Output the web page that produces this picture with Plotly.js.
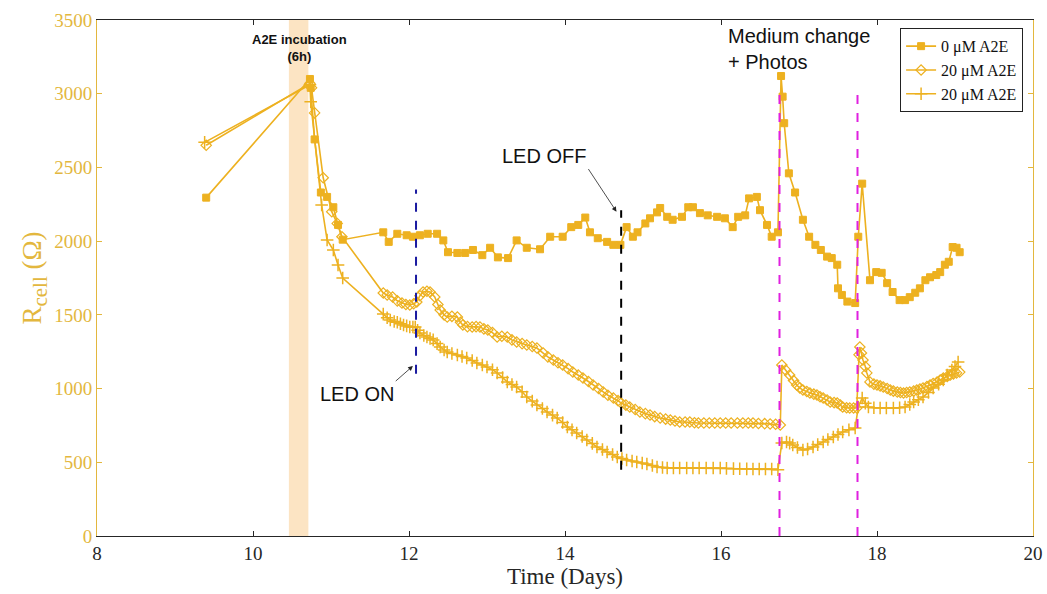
<!DOCTYPE html>
<html>
<head>
<meta charset="utf-8">
<script src="https://cdn.plot.ly/plotly-3.0.1.min.js"></script>
<style>html,body{margin:0;padding:0;background:#fff;}#chart{width:1047px;height:594px;}</style>
</head>
<body>
<div id="chart"></div>
<script>
// ---- Data ----
const seriesNames = ["0 \u03bcM A2E", "20 \u03bcM A2E", "20 \u03bcM A2E"];

const dayA = [9.40,10.73,10.74,10.79,10.87,10.95,11.03,11.09,11.15,11.67,
  11.74,11.85,11.97,12.05,12.14,12.24,12.36,12.44,12.50,12.62,
  12.72,12.82,12.94,13.04,13.14,13.27,13.38,13.51,13.68,13.81,
  13.97,14.08,14.17,14.26,14.32,14.42,14.54,14.62,14.71,14.79,
  14.87,14.93,15.03,15.09,15.18,15.22,15.31,15.38,15.50,15.58,
  15.64,15.73,15.83,15.95,16.05,16.15,16.22,16.31,16.36,16.46,
  16.50,16.59,16.65,16.73,16.77,16.79,16.81,16.87,16.95,17.05,
  17.13,17.21,17.28,17.36,17.42,17.49,17.50,17.55,17.62,17.72,
  17.76,17.81,17.91,17.99,18.06,18.13,18.20,18.29,18.36,18.42,
  18.49,18.55,18.62,18.68,18.76,18.81,18.87,18.92,18.97,19.02,19.06];
const rA = [2295,3100,3040,2690,2330,2300,2230,2110,2010,2060,
  1995,2050,2040,2030,2040,2050,2050,2005,1925,1920,
  1920,1940,1905,1955,1890,1885,2005,1955,1945,2030,
  2030,2095,2110,2160,2060,2020,1995,1975,1975,2095,
  2030,2060,2120,2155,2195,2225,2165,2145,2165,2230,
  2230,2190,2175,2165,2155,2095,2165,2175,2290,2300,
  2210,2110,2030,2060,3120,2980,2800,2460,2330,2145,
  2030,1975,1940,1895,1885,1840,1680,1635,1590,1580,
  2030,2390,1735,1790,1785,1715,1655,1600,1600,1620,
  1650,1680,1735,1755,1770,1790,1840,1860,1960,1955,1925];

const dayB = [9.40,10.73,10.75,10.79,10.90,11.01,11.08,11.14,11.67,11.72,
  11.79,11.85,11.91,11.96,12.01,12.06,12.10,12.14,12.18,12.23,
  12.27,12.33,12.37,12.40,12.45,12.49,12.55,12.62,12.66,12.69,
  12.75,12.81,12.86,12.91,12.96,13.01,13.07,13.13,13.19,13.26,
  13.32,13.38,13.45,13.51,13.58,13.64,13.72,13.78,13.85,13.91,
  13.97,14.04,14.10,14.17,14.23,14.30,14.36,14.43,14.49,14.55,
  14.62,14.68,14.72,14.78,14.83,14.90,14.96,15.03,15.09,15.15,
  15.22,15.29,15.35,15.41,15.47,15.54,15.60,15.66,15.71,15.78,
  15.85,15.92,15.99,16.06,16.13,16.21,16.28,16.35,16.41,16.48,
  16.56,16.63,16.70,16.76,16.78,16.83,16.88,16.93,16.97,17.01,
  17.05,17.10,17.14,17.19,17.23,17.27,17.31,17.36,17.40,17.45,
  17.49,17.53,17.56,17.61,17.65,17.70,17.74,17.77,17.78,17.80,
  17.82,17.85,17.87,17.91,17.96,18.00,18.04,18.08,18.13,18.17,
  18.21,18.26,18.30,18.34,18.38,18.42,18.47,18.51,18.55,18.59,
  18.64,18.68,18.72,18.77,18.81,18.85,18.90,18.94,18.98,19.02,19.06];
const rB = [2650,3070,3040,2870,2430,2200,2120,2030,1648,1635,
  1621,1595,1580,1570,1567,1575,1587,1630,1655,1660,
  1655,1621,1570,1533,1500,1485,1490,1485,1450,1431,
  1420,1418,1420,1418,1405,1397,1380,1350,1355,1350,
  1330,1316,1305,1296,1285,1275,1241,1215,1194,1175,
  1160,1135,1112,1092,1072,1048,1024,1000,977,955,
  936,918,902,888,875,858,841,830,821,810,
  800,793,787,780,773,773,773,768,766,766,
  766,766,766,766,766,766,766,766,766,763,
  762,760,758,753,1160,1125,1092,1055,1024,1005,
  990,980,970,962,956,945,936,922,909,905,
  902,888,875,870,868,868,868,1230,1282,1241,
  1194,1150,1106,1045,1030,1024,1018,1011,1000,990,
  983,977,973,970,973,977,983,990,997,1004,
  1014,1024,1034,1045,1058,1072,1082,1092,1100,1106,1112];

const dayC = [9.38,10.73,10.74,10.88,10.95,11.03,11.09,11.15,11.67,11.72,
  11.76,11.81,11.85,11.89,11.93,11.97,12.01,12.05,12.08,12.11,
  12.14,12.19,12.23,12.27,12.31,12.36,12.40,12.45,12.49,12.55,
  12.62,12.68,12.74,12.81,12.87,12.94,13.00,13.07,13.13,13.20,
  13.26,13.32,13.38,13.45,13.51,13.58,13.64,13.71,13.77,13.84,
  13.90,13.97,14.03,14.09,14.15,14.22,14.28,14.35,14.41,14.48,
  14.54,14.61,14.67,14.73,14.79,14.86,14.92,14.99,15.05,15.12,
  15.18,15.25,15.31,15.39,15.47,15.56,15.64,15.72,15.81,15.90,
  15.99,16.07,16.16,16.24,16.33,16.41,16.49,16.57,16.65,16.73,
  16.78,16.84,16.88,16.92,16.98,17.05,17.11,17.18,17.24,17.31,
  17.37,17.44,17.50,17.56,17.64,17.72,17.76,17.81,17.85,17.89,
  17.96,18.04,18.12,18.21,18.29,18.36,18.42,18.47,18.53,18.59,
  18.66,18.72,18.79,18.85,18.90,18.96,19.00,19.04];
const rC = [2670,3060,2945,2245,2008,1940,1838,1750,1505,1480,
  1465,1455,1450,1440,1431,1425,1418,1418,1418,1395,
  1377,1360,1350,1340,1330,1305,1282,1262,1248,1238,
  1228,1218,1207,1190,1173,1160,1146,1128,1106,1075,
  1045,1028,1011,978,943,915,889,865,841,820,
  800,770,739,720,699,675,651,628,604,587,
  570,553,536,526,516,509,502,495,488,478,
  468,465,461,461,461,461,461,461,461,461,
  461,459,457,456,455,454,454,454,454,450,
  631,638,630,617,600,583,590,604,620,638,
  655,672,688,705,720,733,875,936,900,875,
  870,868,868,868,870,875,892,909,925,943,
  973,1004,1030,1058,1092,1126,1150,1180];

// event markers
const incubation = [10.46, 10.71];
const ledOn = 12.09, ledOff = 14.72;
const mediumChange = [16.75, 17.75];

// ---- Styling ----
const gold = "#EDB120";
const axisGold = "#E3B73E";
const dark = "#262626";
const serif = "Liberation Serif, Times New Roman, serif";
const sans = "Liberation Sans, Arial, sans-serif";

const traces = [
  {x: dayA, y: rA, name: seriesNames[0], type: "scatter", mode: "lines+markers",
   line: {color: gold, width: 1.6},
   marker: {symbol: "square", size: 7, color: gold, line: {color: gold, width: 1}}},
  {x: dayB, y: rB, name: seriesNames[1], type: "scatter", mode: "lines+markers",
   line: {color: gold, width: 1.6},
   marker: {symbol: "diamond-open", size: 8, color: gold, line: {color: gold, width: 1.2}}},
  {x: dayC, y: rC, name: seriesNames[2], type: "scatter", mode: "lines+markers",
   line: {color: gold, width: 1.6},
   marker: {symbol: "cross-thin-open", size: 9, color: gold, line: {color: gold, width: 1.5}}}
];

const shapes = [
  {type: "rect", xref: "x", yref: "y", x0: incubation[0], x1: incubation[1], y0: 0, y1: 3500,
   fillcolor: "#FCE4C3", line: {width: 0}, layer: "below"},
  {type: "line", xref: "x", yref: "y", x0: ledOn, x1: ledOn, y0: 1100, y1: 2350,
   line: {color: "#1A1AA0", width: 2, dash: "dash"}},
  {type: "line", xref: "x", yref: "y", x0: ledOff, x1: ledOff, y0: 450, y1: 2210,
   line: {color: "#000000", width: 2, dash: "dash"}},
  {type: "line", xref: "x", yref: "y", x0: mediumChange[0], x1: mediumChange[0], y0: 0, y1: 3050,
   line: {color: "#E020E0", width: 2, dash: "dash"}},
  {type: "line", xref: "x", yref: "y", x0: mediumChange[1], x1: mediumChange[1], y0: 0, y1: 3030,
   line: {color: "#E020E0", width: 2, dash: "dash"}}
];

const annotations = [
  {xref: "x", yref: "y", x: 10.6, y: 3310, text: "<b>A2E incubation</b><br><b>(6h)</b>",
   showarrow: false, font: {family: sans, size: 13, color: "#111"}, align: "center"},
  {xref: "x", yref: "y", x: 12.05, y: 1153, axref: "x", ayref: "y", ax: 11.83, ay: 1051,
   xanchor: "right", yanchor: "top", text: "LED ON", showarrow: true,
   arrowhead: 2, arrowsize: 1.2, arrowwidth: 0.8, arrowcolor: "#222",
   font: {family: sans, size: 20, color: "#111"}},
  {xref: "x", yref: "y", x: 14.66, y: 2200, axref: "x", ayref: "y", ax: 14.30, ay: 2489,
   xanchor: "right", yanchor: "bottom", text: "LED OFF", showarrow: true,
   arrowhead: 2, arrowsize: 1.2, arrowwidth: 0.8, arrowcolor: "#222",
   font: {family: sans, size: 20, color: "#111"}},
  {xref: "x", yref: "y", x: 16.06, y: 3300, xanchor: "left", align: "left",
   text: "Medium change<br>+ Photos", showarrow: false,
   font: {family: sans, size: 20, color: "#111"}}
];

const layout = {
  width: 1047, height: 594,
  margin: {l: 97, r: 14, t: 20, b: 58},
  paper_bgcolor: "#fff", plot_bgcolor: "#fff",
  showlegend: true,
  legend: {x: 0.858, y: 0.984, xanchor: "left", yanchor: "top",
    bgcolor: "#fff", bordercolor: "#222", borderwidth: 1,
    font: {family: serif, size: 16, color: "#111"}, itemwidth: 30, tracegroupgap: 0},
  xaxis: {range: [8, 20], dtick: 2, tick0: 8, ticks: "inside", ticklen: 5, tickcolor: dark,
    showline: true, linecolor: dark, linewidth: 1, mirror: "ticks", showgrid: false, zeroline: false,
    tickfont: {family: serif, size: 19, color: dark},
    title: {text: "Time (Days)", font: {family: serif, size: 23, color: dark}, standoff: 2}},
  yaxis: {range: [0, 3500], dtick: 500, ticks: "inside", ticklen: 5, tickcolor: axisGold,
    showline: true, linecolor: axisGold, linewidth: 1, mirror: "ticks", showgrid: false, zeroline: false,
    tickfont: {family: serif, size: 19, color: axisGold},
    title: {text: "R<sub><span style=\"font-size:21px\">cell</span></sub> (\u03a9)",
      font: {family: serif, size: 27, color: axisGold}, standoff: 4}},
  shapes: shapes,
  annotations: annotations
};

Plotly.newPlot("chart", traces, layout, {displayModeBar: false, staticPlot: true});
</script>
</body>
</html>
